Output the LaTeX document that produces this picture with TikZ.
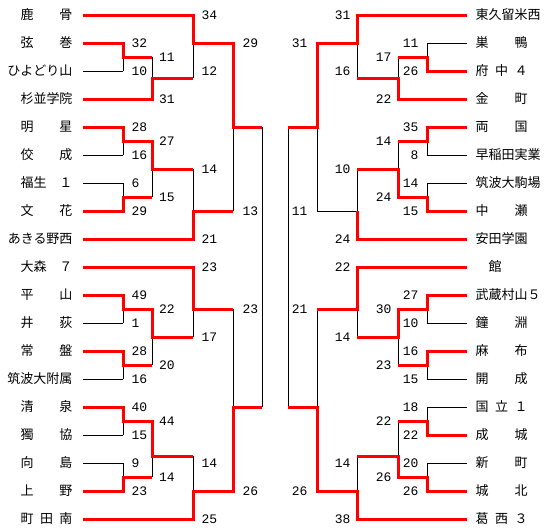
\documentclass[tikz,border=0pt]{standalone}
\usepackage{fontspec}
\newfontfamily\jpfont{Noto Sans CJK JP}
\newfontfamily\scorefont{Liberation Mono}
\newcommand\hsp{\hspace{.5em}}

\begin{document}
\begin{tikzpicture}[x=1pt, y=-1pt, line width=1pt,
  won/.style={red, line width=3pt, line join=miter},
  lteam/.style={anchor=east, inner sep=0pt, font=\jpfont\fontsize{13}{13}\selectfont},
  rteam/.style={anchor=west, inner sep=0pt, font=\jpfont\fontsize{13}{13}\selectfont},
  lsc/.style={anchor=west, inner sep=0pt, font=\scorefont\fontsize{13}{13}\selectfont},
  rsc/.style={anchor=east, inner sep=0pt, font=\scorefont\fontsize{13}{13}\selectfont}]
  \fill[white] (0,0) rectangle (550,530);
  \useasboundingbox (0,0) rectangle (550,530);

  % teams
  \foreach \t [count=\i from 0] in {鹿　　骨,弦　　巻,ひよどり山,杉並学院,明　　星,佼　　成,福生　１,文　　花,あきる野西,大森　７,平　　山,井　　荻,常　　盤,筑波大附属,清　　泉,獨　　協,向　　島,上　　野,町\hsp 田\hsp 南}
    \node[lteam] (L\i) at (73,{15+28*\i}) {\t};
  \foreach \t [count=\i from 0] in {東久留米西,巣　　鴨,府\hsp 中\hsp ４,金　　町,両　　国,早稲田実業,筑波大駒場,中　　瀬,安田学園,　館,武蔵村山５,鐘　　淵,麻　　布,開　　成,国\hsp 立\hsp １,成　　城,新　　町,城　　北,葛\hsp 西\hsp ３}
    \node[rteam] (R\i) at (475,{15+28*\i}) {\t};

  % bracket lines
  \foreach \i/\x in {0/193,1/123,2/123,3/152,4/123,5/123,6/123,7/123,8/193,9/193,10/123,11/123,12/123,13/123,14/123,15/123,16/123,17/123,18/193}
    \draw ([xshift=10pt]L\i.east) -- (\x,{15+28*\i});
  \foreach \i/\x in {0/357,1/427,2/427,3/398,4/427,5/427,6/427,7/427,8/357,9/357,10/427,11/427,12/427,13/427,14/427,15/427,16/427,17/427,18/357}
    \draw ([xshift=-8pt]R\i.west) -- (\x,{15+28*\i});
  \foreach \x/\a/\b/\m/\n in {123/43/71/57/152, 152/57/99/78/193, 193/15/78/43/233,
      123/127/155/141/152, 123/183/211/197/152, 152/141/197/169/193, 193/169/239/211/233,
      233/43/211/127/262, 123/295/323/309/152, 123/351/379/365/152, 152/309/365/337/193,
      193/267/337/309/233, 123/407/435/421/152, 123/463/491/477/152, 152/421/477/456/193,
      193/456/519/491/233, 233/309/491/407/262,
      427/43/71/57/398, 398/57/99/78/357, 357/15/78/43/317,
      427/127/155/141/398, 427/183/211/197/398, 398/141/197/169/357, 357/169/239/211/317,
      317/43/211/127/288, 427/295/323/309/398, 427/351/379/365/398, 398/309/365/337/357,
      357/267/337/309/317, 427/407/435/421/398, 427/463/491/477/398, 398/421/477/456/357,
      357/456/519/491/317, 317/309/491/407/288}
    \draw (\x,\a) -- (\x,\b) (\x,\m) -- (\n,\m);
  \draw (262,127) -- (262,407);
  \draw (288,127) -- (288,407);

  % winners, left
  \draw[won] ([xshift=10pt]L0.east) -- (193,15) -- (193,43) -- (233,43) -- (233,127) -- (262,127);
  \draw[won] ([xshift=10pt]L1.east) -- (123,43) -- (123,57) -- (152,57);
  \draw[won] ([xshift=10pt]L3.east) -- (152,99) -- (152,78) -- (193,78);
  \draw[won] ([xshift=10pt]L4.east) -- (123,127) -- (123,141) -- (152,141) -- (152,169) -- (193,169);
  \draw[won] ([xshift=10pt]L7.east) -- (123,211) -- (123,197) -- (152,197);
  \draw[won] ([xshift=10pt]L8.east) -- (193,239) -- (193,211) -- (233,211);
  \draw[won] ([xshift=10pt]L9.east) -- (193,267) -- (193,309) -- (233,309);
  \draw[won] ([xshift=10pt]L10.east) -- (123,295) -- (123,309) -- (152,309) -- (152,337) -- (193,337);
  \draw[won] ([xshift=10pt]L12.east) -- (123,351) -- (123,365) -- (152,365);
  \draw[won] ([xshift=10pt]L14.east) -- (123,407) -- (123,421) -- (152,421) -- (152,456) -- (193,456);
  \draw[won] ([xshift=10pt]L17.east) -- (123,491) -- (123,477) -- (152,477);
  \draw[won] ([xshift=10pt]L18.east) -- (193,519) -- (193,491) -- (233,491) -- (233,407) -- (262,407);

  % winners, right
  \draw[won] ([xshift=-8pt]R0.west) -- (357,15) -- (357,43) -- (317,43) -- (317,127) -- (288,127);
  \draw[won] ([xshift=-8pt]R2.west) -- (427,71) -- (427,57) -- (398,57);
  \draw[won] ([xshift=-8pt]R3.west) -- (398,99) -- (398,78) -- (357,78);
  \draw[won] ([xshift=-8pt]R4.west) -- (427,127) -- (427,141) -- (398,141);
  \draw[won] ([xshift=-8pt]R7.west) -- (427,211) -- (427,197) -- (398,197) -- (398,169) -- (357,169);
  \draw[won] ([xshift=-8pt]R8.west) -- (357,239) -- (357,211);
  \draw[won] ([xshift=-8pt]R9.west) -- (357,267) -- (357,309) -- (317,309);
  \draw[won] ([xshift=-8pt]R10.west) -- (427,295) -- (427,309) -- (398,309) -- (398,337) -- (357,337);
  \draw[won] ([xshift=-8pt]R12.west) -- (427,351) -- (427,365) -- (398,365);
  \draw[won] ([xshift=-8pt]R15.west) -- (427,435) -- (427,421) -- (398,421);
  \draw[won] ([xshift=-8pt]R17.west) -- (427,491) -- (427,477) -- (398,477) -- (398,456) -- (357,456);
  \draw[won] ([xshift=-8pt]R18.west) -- (357,519) -- (357,491) -- (317,491) -- (317,407) -- (288,407);

  % scores
  \foreach \y/\s in {43/32,71/10,127/28,155/16,183/6,211/29,295/49,323/1,351/28,379/16,407/40,435/15,463/9,491/23}
    \node[lsc] (la\y) at (131,\y) {\s};
  \foreach \y/\s in {57/11,99/31,141/27,197/15,309/22,365/20,421/44,477/14}
    \node[lsc] (lb\y) at (158.5,\y) {\s};
  \foreach \y/\s in {15/34,71/12,169/14,239/21,267/23,337/17,463/14,519/25}
    \node[lsc] (lc\y) at (201,\y) {\s};
  \foreach \y/\s in {43/29,211/13,309/23,491/26}
    \node[lsc] (ld\y) at (242,\y) {\s};
  \foreach \y/\s in {43/11,71/26,127/35,155/8,183/14,211/15,295/27,323/10,351/16,379/15,407/18,435/22,463/20,491/26}
    \node[rsc] (ra\y) at (419,\y) {\s};
  \foreach \y/\s in {57/17,99/22,141/14,197/24,309/30,365/23,421/22,477/26}
    \node[rsc] (rb\y) at (392,\y) {\s};
  \foreach \y/\s in {15/31,71/16,169/10,239/24,267/22,337/14,463/14,519/38}
    \node[rsc] (rc\y) at (351,\y) {\s};
  \foreach \y/\s in {43/31,211/11,309/21,491/26}
    \node[rsc] (rd\y) at (308,\y) {\s};
\end{tikzpicture}
\end{document}
